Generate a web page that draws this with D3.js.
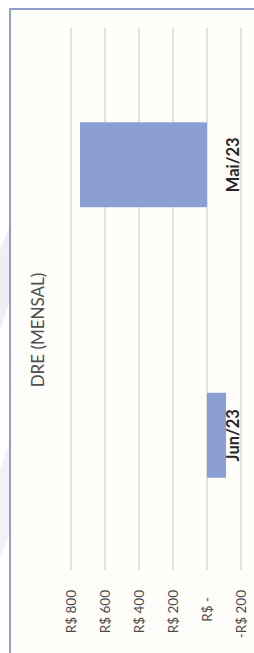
<!DOCTYPE html>
<html><head><meta charset="utf-8">
<script src="https://cdn.jsdelivr.net/npm/d3@7"></script>
<style>html,body{margin:0;padding:0;background:#fff;}svg{display:block;}</style>
</head><body>
<svg id="c" width="254" height="653"></svg>
<script>
const categories = ["Mai/23", "Jun/23"];
const values = [747, -112];
const tickValues = [800, 600, 400, 200, 0, -200];
const tickLabels = ["R$ 800", "R$ 600", "R$ 400", "R$ 200", "R$ -\u00a0\u00a0", "-R$ 200"];
const title = "DRE (MENSAL)";

const svg = d3.select("#c");
const font = "Lato, 'Open Sans', sans-serif";

// watermark in margin
svg.append("polygon").attr("points", "0,250 10,225 10,300 0,330").attr("fill", "#efefef");
svg.append("polygon").attr("points", "0,470 10,440 10,530 0,560").attr("fill", "#f2f2f2");

// chart area
svg.append("rect").attr("x", 10).attr("y", 9).attr("width", 250).attr("height", 650)
  .attr("fill", "#fffefb").attr("stroke", "#8e9fcf").attr("stroke-width", 2);

// value scale (horizontal on page because chart is rotated)
const x = d3.scaleLinear().domain([-200, 800]).range([241, 71]);
const y = d3.scaleBand().domain(categories).range([29.5, 570.5])
  .paddingInner(0.686).paddingOuter(0.343);

// gridlines
svg.append("g").selectAll("line").data(tickValues).join("line")
  .attr("x1", d => x(d)).attr("x2", d => x(d))
  .attr("y1", 28).attr("y2", 570)
  .attr("stroke", "#d9d9d9").attr("stroke-width", 1.5);

// bars
svg.append("g").selectAll("rect").data(categories).join("rect")
  .attr("x", (d, i) => Math.min(x(values[i]), x(0)))
  .attr("width", (d, i) => Math.abs(x(values[i]) - x(0)))
  .attr("y", d => y(d))
  .attr("height", y.bandwidth())
  .attr("fill", "#8c9fd2");

// tick labels
svg.append("g").selectAll("text").data(tickValues).join("text")
  .attr("transform", d => `translate(${x(d)},590) rotate(-90)`)
  .attr("text-anchor", "end").attr("dominant-baseline", "central")
  .attr("font-family", font).attr("font-size", 13.5).attr("fill", "#4a4a4a")
  .style("white-space", "pre")
  .text((d, i) => tickLabels[i]);

// category labels
svg.append("g").selectAll("text").data(categories).join("text")
  .attr("transform", d => `translate(233,${y(d) + y.bandwidth() / 2}) rotate(-90)`)
  .attr("text-anchor", "middle").attr("dominant-baseline", "central")
  .attr("font-family", font).attr("font-size", 16.5).attr("font-weight", "bold").attr("fill", "#262626")
  .text(d => d);

// title
svg.append("text")
  .attr("transform", "translate(37,330) rotate(-90)")
  .attr("text-anchor", "middle").attr("dominant-baseline", "central")
  .attr("font-family", font).attr("font-size", 17).attr("fill", "#4f4f4f")
  .text(title);
</script>
</body></html>
